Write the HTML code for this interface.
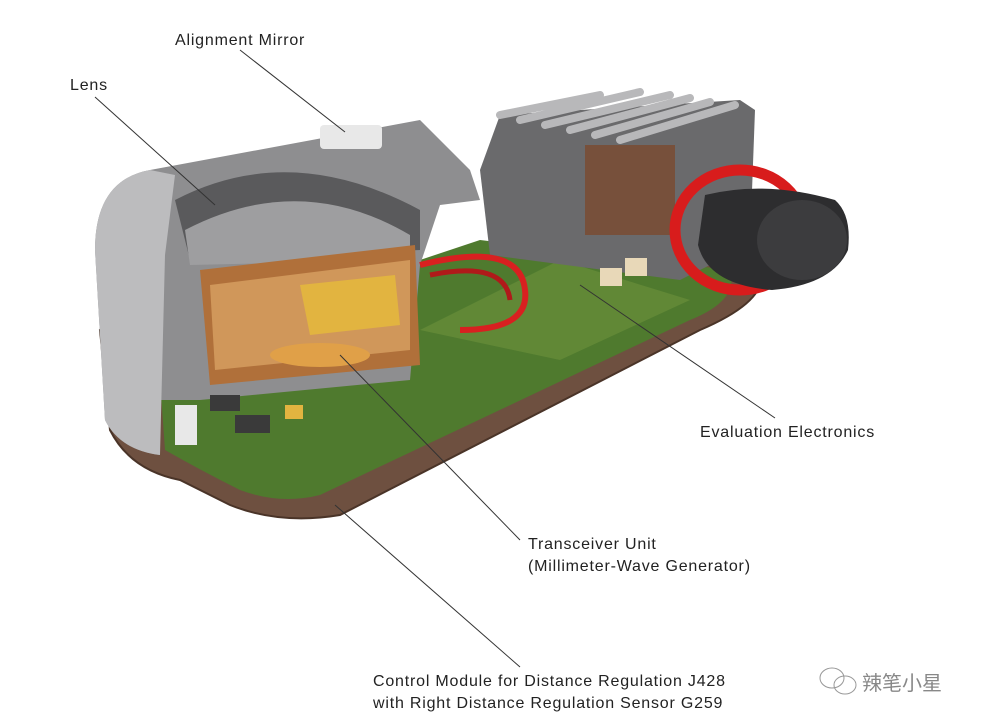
<!DOCTYPE html>
<html><head><meta charset="utf-8"><style>
html,body{margin:0;padding:0;background:#fff;}
svg{display:block;}
text{font-family:"Liberation Sans",sans-serif;font-size:16px;letter-spacing:0.8px;fill:#222;}
</style></head><body>
<svg width="989" height="724" viewBox="0 0 989 724">
<path d="M100,330 L110,430 Q130,470 180,480 L230,505 Q280,525 340,515 L700,330 Q770,300 760,270 L740,250 L480,250 Z" fill="#6e5040" stroke="#4a3428" stroke-width="2"/>
<path d="M160,380 L165,450 Q200,470 240,490 Q280,505 320,495 L690,320 Q740,300 730,270 L480,240 L300,300 Z" fill="#4f7a2e"/>
<path d="M420,330 L560,260 L690,300 L560,360 Z" fill="#6a8f3a" opacity="0.7"/>
<path d="M480,170 L500,115 L740,100 L755,110 L750,245 L680,280 L490,255 Z" fill="#6a6a6c"/>
<path d="M500,115 L600,95 M520,120 L640,92 M545,125 L670,95 M570,130 L690,98 M595,135 L710,102 M620,140 L735,105" stroke="#b8b8ba" stroke-width="8" stroke-linecap="round"/>
<rect x="585" y="145" width="90" height="90" fill="#7a4a30" opacity="0.8"/>
<ellipse cx="740" cy="230" rx="65" ry="60" fill="none" stroke="#d81c1c" stroke-width="11"/>
<path d="M705,195 Q765,180 835,200 Q852,215 848,250 Q832,285 772,290 Q708,285 698,245 Z" fill="#2d2d2f"/>
<ellipse cx="802" cy="240" rx="45" ry="40" fill="#3c3c3e"/>
<path d="M95,250 Q95,180 150,170 L420,120 L470,170 L480,200 L440,205 L420,265 L410,380 L200,400 L160,400 L160,455 Q120,450 105,420 Z" fill="#8e8e90"/>
<path d="M95,250 Q95,180 150,170 L175,175 L165,255 L160,455 Q120,450 105,420 Z" fill="#bcbcbe"/>
<path d="M175,200 Q290,140 420,210 L420,250 L190,260 Z" fill="#5a5a5c"/>
<path d="M185,230 Q300,170 410,235 L410,260 L190,265 Z" fill="#9e9ea0"/>
<rect x="320" y="125" width="62" height="24" rx="4" fill="#e8e8e8"/>
<path d="M200,270 L415,245 L420,365 L210,385 Z" fill="#b0703a"/>
<path d="M210,285 L410,260 L410,350 L215,370 Z" fill="#d0975a"/>
<path d="M300,285 L395,275 L400,325 L310,335 Z" fill="#e2b440"/>
<ellipse cx="320" cy="355" rx="50" ry="12" fill="#e0a048"/>
<path d="M420,265 Q520,240 525,290 Q530,330 460,330" fill="none" stroke="#d82020" stroke-width="6"/>
<path d="M430,275 Q505,260 510,300" fill="none" stroke="#b01a1a" stroke-width="5"/>
<rect x="600" y="268" width="22" height="18" fill="#e8d8b8"/>
<rect x="625" y="258" width="22" height="18" fill="#e8d8b8"/>
<rect x="285" y="405" width="18" height="14" fill="#e2b440"/>
<rect x="210" y="395" width="30" height="16" fill="#3a3a3a"/>
<rect x="235" y="415" width="35" height="18" fill="#3a3a3a"/>
<rect x="175" y="405" width="22" height="40" fill="#e8e8e8"/>
<g stroke="#333" stroke-width="1">
<line x1="240" y1="50" x2="345" y2="132"/>
<line x1="95" y1="97" x2="215" y2="205"/>
<line x1="775" y1="418" x2="580" y2="285"/>
<line x1="520" y1="540" x2="340" y2="355"/>
<line x1="520" y1="667" x2="335" y2="505"/>
</g>
<text x="175" y="45">Alignment Mirror</text>
<text x="70" y="90">Lens</text>
<text x="700" y="437">Evaluation Electronics</text>
<text x="528" y="549">Transceiver Unit</text>
<text x="528" y="571">(Millimeter-Wave Generator)</text>
<text x="373" y="686">Control Module for Distance Regulation J428</text>
<text x="373" y="708">with Right Distance Regulation Sensor G259</text>
<g fill="none" stroke="#999" stroke-width="1">
<ellipse cx="832" cy="678" rx="12" ry="10"/>
<ellipse cx="845" cy="685" rx="11" ry="9"/>
</g>
<text x="862" y="690" style="font-family:'Noto Sans CJK SC',sans-serif;font-size:20px;letter-spacing:0;fill:#888">辣笔小星</text>
</svg>
</body></html>
